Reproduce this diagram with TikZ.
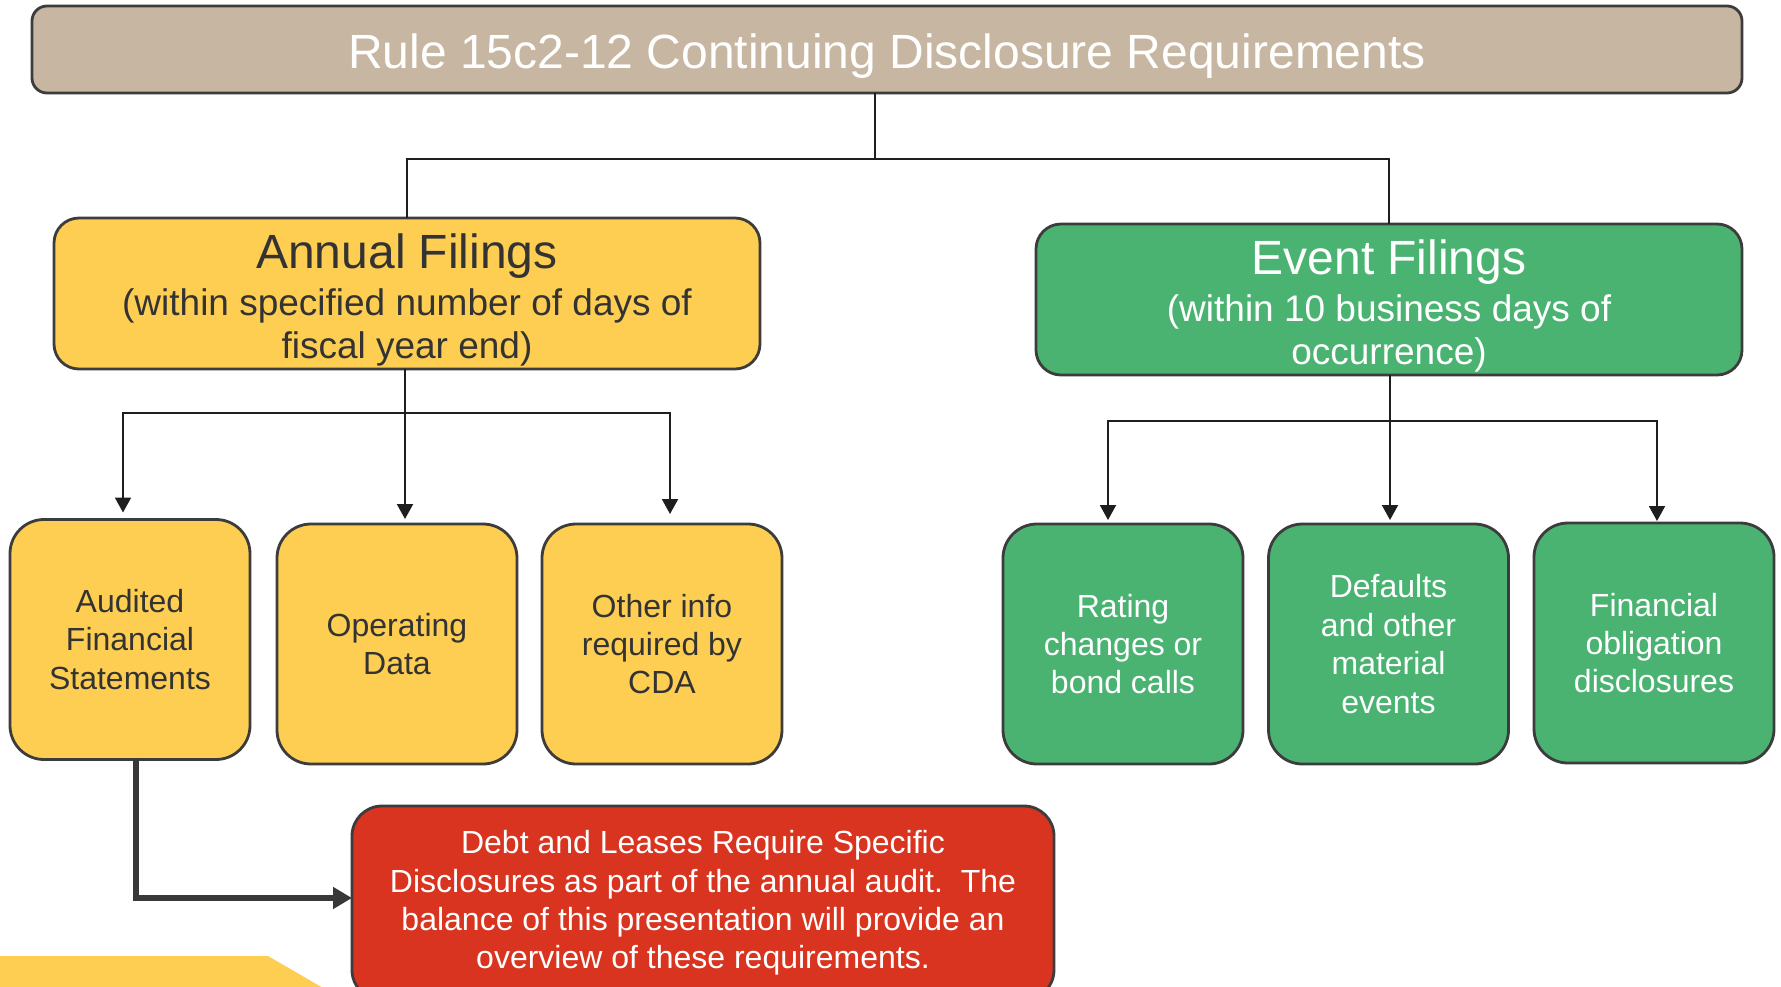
\documentclass[tikz,border=0pt]{standalone}
\usepackage{fontspec}
\setmainfont{Liberation Sans}
\usetikzlibrary{arrows.meta,calc}
\definecolor{cTan}{HTML}{C7B7A2}
\definecolor{cYel}{HTML}{FECE52}
\definecolor{cGrn}{HTML}{4BB372}
\definecolor{cRed}{HTML}{D9341F}
\definecolor{cEdge}{HTML}{3C3C3C}
\definecolor{cTxt}{HTML}{333333}
\definecolor{cLine}{HTML}{1E1E1E}
\definecolor{cThick}{HTML}{383838}
\tikzset{
  boxbase/.style={draw=cEdge, line width=2.8pt, inner sep=0pt, outer sep=0pt, align=center},
  titlebox/.style={boxbase, fill=cTan, rounded corners=15pt, text=white,
    font=\fontsize{48}{52}\selectfont, text height=37pt, text depth=0pt},
  headbox/.style={boxbase, rounded corners=25pt, minimum width=706pt, minimum height=151pt},
  leafbox/.style={boxbase, rounded corners=34pt, minimum width=240pt, minimum height=240pt,
    font=\fontsize{32}{38.4}\selectfont},
  yel/.style={fill=cYel, text=cTxt},
  grn/.style={fill=cGrn, text=white},
  headtitle/.style={inner sep=0pt, font=\fontsize{48}{52}\selectfont, text height=34pt, text depth=0pt},
  headsub/.style={inner sep=0pt, align=center, font=\fontsize{37}{43}\selectfont},
  conn/.style={draw=cLine, line width=2pt},
  arr/.style={conn, -{Triangle[length=15pt,width=16pt]}},
  bigarr/.style={draw=cThick, line width=6.5pt, -{Triangle[length=19pt,width=21pt]}},
}
\begin{document}
\begin{tikzpicture}[x=1pt,y=-1pt]
\useasboundingbox (0,0) rectangle (1781,986);
\clip (0,0) rectangle (1781,986);
\fill[white] (0,0) rectangle (1781,986);

% decorative yellow band at bottom left
\fill[cYel] (0,956) -- (268,956) -- (330,992) -- (0,992) -- cycle;

% title
\node[titlebox, minimum width=1710pt, minimum height=87pt] (title) at (887,49.5)
  {Rule 15c2-12 Continuing Disclosure Requirements};

% head boxes
\node[headbox, yel] (annual) at (407,293.5) {};
\node[headtitle, text=cTxt] (annualT) at (407,251) {Annual Filings};
\node[headsub, text=cTxt] (annualS) at (407,327) {(within specified number of days of\\fiscal year end)};

\node[headbox, grn] (event) at (1389,299.5) {};
\node[headtitle, text=white] (eventT) at (1389,257) {Event Filings};
\node[headsub, text=white] (eventS) at (1389,333.5) {(within 10 business days of\\occurrence)};

% leaf boxes
\node[leafbox, yel] (aud) at (130,639.5) {Audited\\Financial\\Statements};
\node[leafbox, yel] (op) at (397,644) {Operating\\Data};
\node[leafbox, yel] (oth) at (662,644) {Other info\\required by\\CDA};
\node[leafbox, grn] (rat) at (1123,644) {Rating\\changes or\\bond calls};
\node[leafbox, grn] (def) at (1388.5,644) {Defaults\\and other\\material\\events};
\node[leafbox, grn] (fin) at (1654,643) {Financial\\obligation\\disclosures};

% red note box
\node[boxbase, fill=cRed, text=white, rounded corners=30pt, minimum width=702pt, minimum height=194pt,
  font=\fontsize{32}{38.4}\selectfont] (red) at (703,903)
  {Debt and Leases Require Specific\\Disclosures as part of the annual audit.\ \ The\\balance of this presentation will provide an\\overview of these requirements.};

% title connectors
\coordinate (tj) at (875,159);
\coordinate (ts) at ($(title.south)+(-12,0)$);
\draw[conn] (ts) -- (tj);
\draw[conn] (tj) -| (annual.north);
\draw[conn] (tj) -| (event.north);

% annual connectors
\coordinate (am) at ($(annual.south)+(-2,0)$);
\coordinate (aj) at ($(am)+(0,44)$);
\coordinate (a1) at ($(aud.north)+(-7,0)$);
\coordinate (a3) at ($(oth.north)+(8,0)$);
\draw[arr, shorten >=7pt] (aj) -| (a1);
\draw[arr, shorten >=10pt] (aj) -| (a3);
\draw[arr, shorten >=5pt] (am) -- (am |- op.north);

% event connectors
\coordinate (em) at ($(event.south)+(1,0)$);
\coordinate (ej) at ($(em)+(0,46)$);
\coordinate (e1) at ($(rat.north)+(-15,0)$);
\coordinate (e3) at ($(fin.north)+(3,0)$);
\draw[arr, shorten >=4pt] (ej) -| (e1);
\draw[arr, shorten >=2pt] (ej) -| (e3);
\draw[arr, shorten >=4pt] (em) -- (em |- def.north);

% thick arrow to red box
\coordinate (ab) at ($(aud.south)+(6,0)$);
\coordinate (rw) at ($(red.west)+(0,-5)$);
\draw[bigarr] (ab) |- (rw);
\end{tikzpicture}
\end{document}
